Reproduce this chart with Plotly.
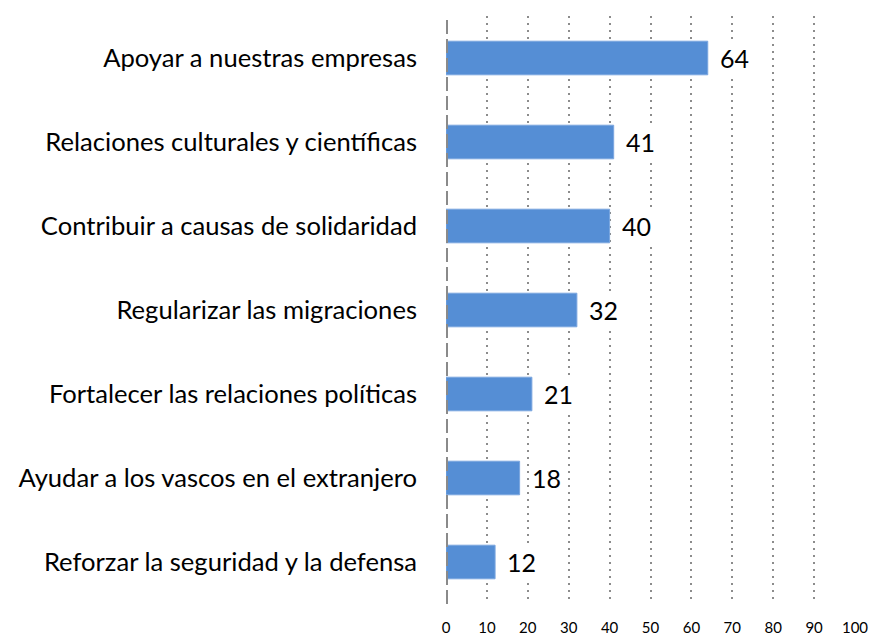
import plotly.graph_objects as go

categories = [
    "Apoyar a nuestras empresas",
    "Relaciones culturales y científicas",
    "Contribuir a causas de solidaridad",
    "Regularizar las migraciones",
    "Fortalecer las relaciones políticas",
    "Ayudar a los vascos en el extranjero",
    "Reforzar la seguridad y la defensa",
]
values = [64, 41, 40, 32, 21, 18, 12]
x_ticks = [0, 10, 20, 30, 40, 50, 60, 70, 80, 90, 100]

fig = go.Figure()
fig.add_trace(go.Bar(
    x=values, y=categories, orientation="h",
    marker=dict(color="#558ed5", line=dict(color="#7aa6df", width=1)),
    width=0.4, hoverinfo="x+y",
))

for v, c in zip(values, categories):
    fig.add_annotation(x=v, y=c, text=str(v), showarrow=False, xanchor="left",
                       xshift=10, bgcolor="white", borderpad=1,
                       font=dict(family="Lato", size=25, color="black"))

fig.add_shape(type="line", xref="x", yref="paper", x0=0, x1=0, y0=0, y1=1.0,
              line=dict(color="#8a8a8a", width=4, dash="14px,5px"), layer="above")

fig.update_layout(
    width=870, height=637,
    margin=dict(l=446, r=15, t=16, b=33, autoexpand=False),
    plot_bgcolor="white", paper_bgcolor="white",
    showlegend=False,
    font=dict(family="Lato", color="black"),
    xaxis=dict(range=[0, 100], tickvals=x_ticks, showgrid=True, griddash="2px,5px",
               gridcolor="#8c8c8c", gridwidth=2, zeroline=False, showline=False,
               tickfont=dict(size=15, family="Lato"), ticklabelstandoff=13,
               automargin=False, fixedrange=True),
    yaxis=dict(autorange="reversed", showgrid=False, zeroline=False,
               tickfont=dict(size=25.6, family="Lato"), ticklabelstandoff=28,
               automargin=False, fixedrange=True),
    bargap=0.6,
)

fig.write_html(
    "out.html",
    config={"displayModeBar": False},
    post_script="document.body.style.margin='0';document.body.style.overflow='hidden';",
)
